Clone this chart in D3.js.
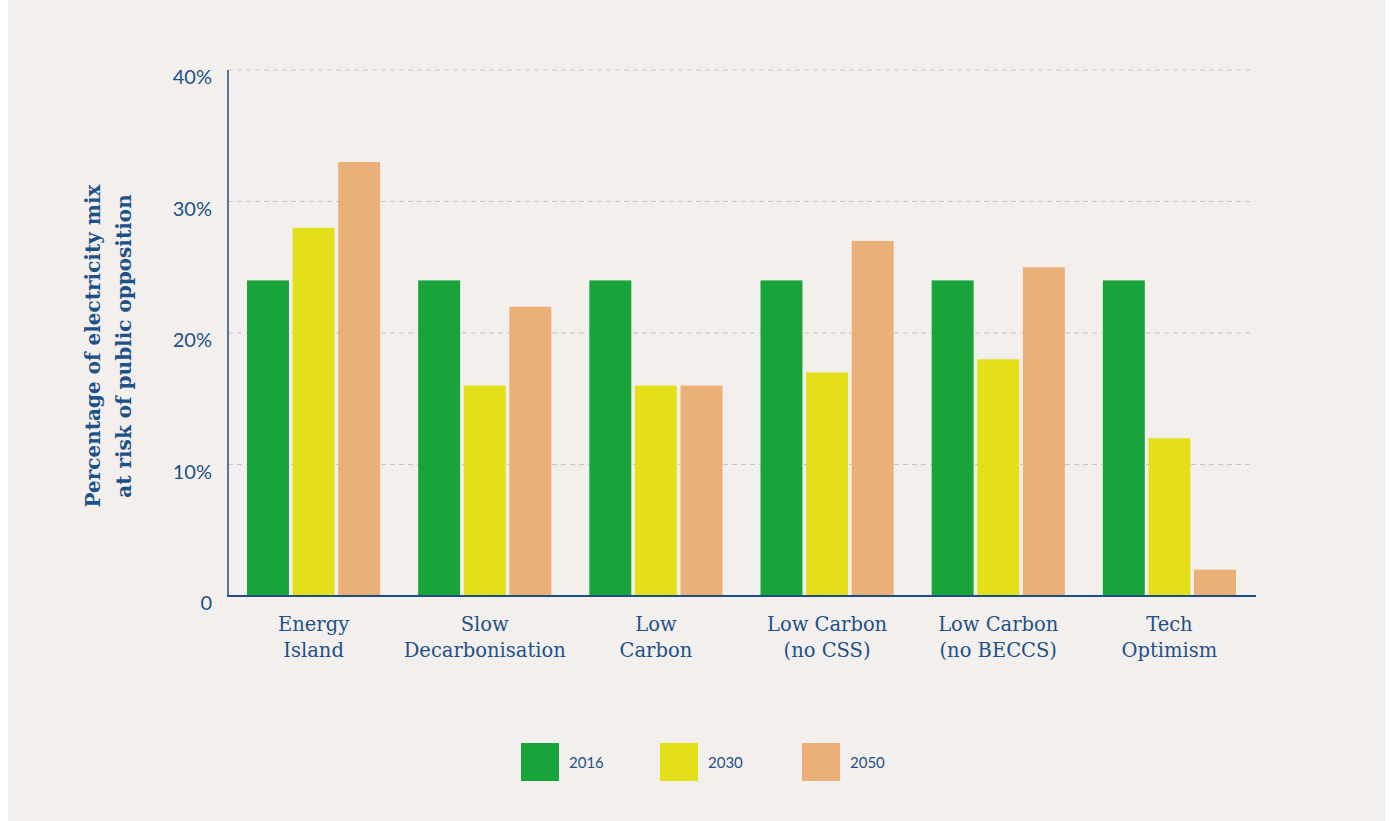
<!DOCTYPE html>
<html lang="en">
  <head>
    <meta charset="utf-8" />
    <title>electricity mix at risk</title>
    <script type="text/javascript" src="https://d3js.org/d3.v7.min.js"></script>
    <style>
      body { margin: 0; background: #fff; }
      text { fill: #1d5289; }
    </style>
  </head>
  <body>
    <div id="chart"></div>
    <script type="text/javascript">
      /********************************
       * data
       ********************************/
      const categories = [
        ["Energy", "Island"],
        ["Slow", "Decarbonisation"],
        ["Low", "Carbon"],
        ["Low Carbon", "(no CSS)"],
        ["Low Carbon", "(no BECCS)"],
        ["Tech", "Optimism"],
      ];
      const years = ["2016", "2030", "2050"];
      const values2016 = [24, 24, 24, 24, 24, 24];
      const values2030 = [28, 16, 16, 17, 18, 12];
      const values2050 = [33, 22, 16, 27, 25, 2];
      const yTicks = [0, 10, 20, 30, 40];

      const series = [values2016, values2030, values2050];
      const colors = ["#18a43a", "#e3e01a", "#ebb077"];
      const catNames = categories.map((c) => c.join(" "));

      /***************************
       * svg
       **************************/
      const width = 1391;
      const height = 821;
      const svg = d3
        .select("#chart")
        .append("svg")
        .attr("width", width)
        .attr("height", height);

      // beige panel
      svg
        .append("rect")
        .attr("x", 8)
        .attr("y", 0)
        .attr("width", 1377)
        .attr("height", height)
        .attr("fill", "#f3efec");

      /****************************
       * scales
       *************************/
      const x0 = d3.scaleBand().domain(catNames).range([228, 1255]);
      const x1 = d3
        .scaleBand()
        .domain(years)
        .range([19, x0.bandwidth() - 19])
        .paddingInner(0.08);
      const y = d3.scaleLinear().domain([0, 40]).range([596, 70]);

      // gridlines
      svg
        .append("g")
        .selectAll("line")
        .data(yTicks.filter((d) => d > 0))
        .enter()
        .append("line")
        .attr("x1", 228)
        .attr("x2", 1252)
        .attr("y1", (d) => y(d))
        .attr("y2", (d) => y(d))
        .attr("stroke", "#c9c6c3")
        .attr("stroke-width", 1)
        .attr("stroke-dasharray", "5,4");

      // bars
      const groups = svg
        .append("g")
        .selectAll("g")
        .data(catNames)
        .enter()
        .append("g")
        .attr("transform", (d) => `translate(${x0(d)},0)`);

      groups
        .selectAll("rect")
        .data((d, i) => years.map((yr, j) => ({ yr, j, v: series[j][i] })))
        .enter()
        .append("rect")
        .attr("x", (d) => x1(d.yr))
        .attr("width", x1.bandwidth())
        .attr("y", (d) => y(d.v))
        .attr("height", (d) => y(0) - y(d.v))
        .attr("fill", (d) => colors[d.j]);

      /*********************************
       * axes
       *******************************/
      const axisColor = "#1b4f82";
      svg
        .append("line")
        .attr("x1", 228)
        .attr("x2", 228)
        .attr("y1", 70)
        .attr("y2", 597)
        .attr("stroke", axisColor)
        .attr("stroke-width", 1.5);
      svg
        .append("line")
        .attr("x1", 227)
        .attr("x2", 1256)
        .attr("y1", 596)
        .attr("y2", 596)
        .attr("stroke", axisColor)
        .attr("stroke-width", 2);

      svg
        .append("g")
        .selectAll("text")
        .data(yTicks)
        .enter()
        .append("text")
        .attr("x", 212)
        .attr("y", (d) => y(d) + 14)
        .attr("text-anchor", "end")
        .style("font-family", "Lato, 'Noto Sans', sans-serif")
        .style("font-size", "20px")
        .text((d) => (d === 0 ? "0" : d + "%"));

      // category labels
      const catLabels = svg
        .append("g")
        .selectAll("text")
        .data(categories)
        .enter()
        .append("text")
        .attr("x", (d, i) => x0(catNames[i]) + x0.bandwidth() / 2)
        .attr("y", 631)
        .attr("text-anchor", "middle")
        .style("font-family", "'DejaVu Serif', serif")
        .style("font-size", "19.5px");
      catLabels
        .selectAll("tspan")
        .data((d) => d)
        .enter()
        .append("tspan")
        .attr("x", function () {
          return d3.select(this.parentNode).attr("x");
        })
        .attr("dy", (d, i) => (i === 0 ? 0 : 26))
        .text((d) => d);

      // y axis title
      svg
        .append("text")
        .attr("transform", "translate(100,346) rotate(-90)")
        .attr("text-anchor", "middle")
        .style("font-family", "'DejaVu Serif', serif")
        .style("font-size", "20px")
        .style("font-weight", "bold")
        .selectAll("tspan")
        .data(["Percentage of electricity mix", "at risk of public opposition"])
        .enter()
        .append("tspan")
        .attr("x", 0)
        .attr("dy", (d, i) => (i === 0 ? 0 : 31))
        .text((d) => d);

      /*********************************
       * legend
       *******************************/
      const legendX = [521, 660, 802];
      const legend = svg
        .append("g")
        .selectAll("g")
        .data(years)
        .enter()
        .append("g")
        .attr("transform", (d, i) => `translate(${legendX[i]},743)`);
      legend
        .append("rect")
        .attr("width", 38)
        .attr("height", 38)
        .attr("fill", (d, i) => colors[i]);
      legend
        .append("text")
        .attr("x", 48)
        .attr("y", 25)
        .style("font-family", "Lato, 'Noto Sans', sans-serif")
        .style("font-size", "15px")
        .text((d) => d);
    </script>
  </body>
</html>
